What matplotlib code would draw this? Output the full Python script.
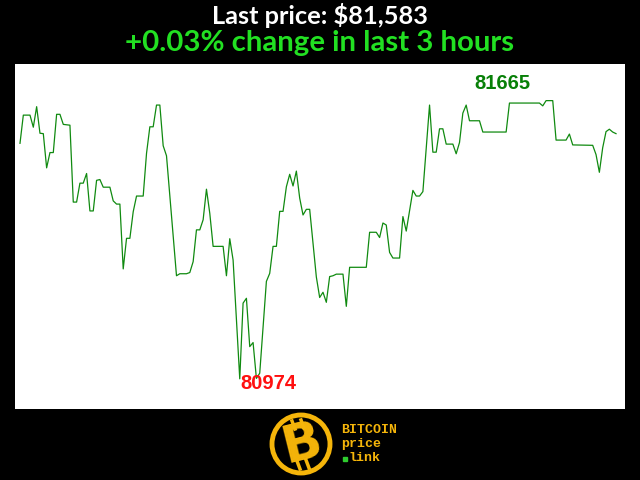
import matplotlib
matplotlib.use("Agg")
import matplotlib.pyplot as plt
from matplotlib.patches import Circle

# minutes over the last 3 hours, price at each turning point
minutes = [0, 1, 3, 4, 5, 6, 7, 8, 9, 10, 11, 12, 13, 14, 15, 16, 17, 18, 19, 20,
           21, 22, 23, 24, 25, 27, 28, 29, 30, 31, 32, 33, 34, 35, 37, 38, 39, 40,
           41, 42, 43, 44, 47, 48, 50, 51, 52, 53, 54, 55, 56, 57, 58, 61, 62, 63,
           64, 66, 67, 68, 69, 70, 71, 72, 74, 75, 76, 77, 78, 79, 80, 81, 82, 83,
           84, 85, 86, 87, 89, 90, 91, 92, 93, 94, 95, 97, 98, 99, 104, 105, 107,
           108, 109, 110, 111, 112, 114, 115, 116, 118, 119, 120, 121, 123, 124,
           125, 126, 127, 128, 130, 131, 132, 133, 134, 135, 138, 139, 146, 147,
           156, 157, 158, 160, 161, 164, 165, 166, 172, 173, 174, 175, 176, 177,
           178, 179]
prices = [81559, 81629, 81629, 81599, 81650, 81584, 81583, 81498, 81536, 81536,
          81631, 81631, 81606, 81605, 81604, 81413, 81413, 81460, 81460, 81484,
          81391, 81391, 81467, 81469, 81450, 81450, 81416, 81408, 81408, 81247,
          81323, 81323, 81389, 81428, 81428, 81534, 81600, 81600, 81654, 81654,
          81553, 81528, 81230, 81235, 81235, 81238, 81265, 81344, 81344, 81369,
          81445, 81385, 81303, 81303, 81230, 81322, 81269, 80974, 81162, 81174,
          81054, 81064, 80975, 80988, 81216, 81236, 81303, 81303, 81390, 81390,
          81451, 81482, 81453, 81490, 81423, 81381, 81395, 81395, 81227, 81176,
          81189, 81164, 81228, 81230, 81234, 81234, 81154, 81251, 81251, 81338,
          81338, 81325, 81361, 81356, 81288, 81274, 81274, 81377, 81341, 81442,
          81428, 81428, 81439, 81654, 81537, 81537, 81595, 81595, 81557, 81557,
          81533, 81561, 81634, 81654, 81615, 81615, 81587, 81587, 81659, 81659,
          81652, 81665, 81665, 81567, 81567, 81582, 81555, 81554, 81531, 81487,
          81548, 81588, 81594, 81587, 81583]

last_price = prices[-1]
change_pct = (prices[-1] - prices[0]) / prices[0] * 100

fig = plt.figure(figsize=(6.4, 4.8), dpi=100, facecolor="black")
ax = fig.add_axes([15 / 640, 71 / 480, 610 / 640, 345 / 480])
ax.set_facecolor("white")
ax.plot(minutes, prices, color="#108a10", linewidth=0.9)
ax.set_xlim(-1.5, 181.7)
ax.set_ylim(80899, 81756)
ax.set_xticks([])
ax.set_yticks([])
for s in ax.spines.values():
    s.set_visible(False)

# high / low labels
hi = max(prices)
lo = min(prices)
ax.annotate(str(hi), xy=(minutes[prices.index(hi)], hi), xytext=(-44, 17),
            textcoords="offset pixels", ha="center", va="center",
            color="#088008", fontsize=14.5, fontweight="bold", family="Liberation Sans")
ax.annotate(str(lo), xy=(minutes[prices.index(lo)], lo), xytext=(29, -5),
            textcoords="offset pixels", ha="center", va="center",
            color="#ff1010", fontsize=14.5, fontweight="bold", family="Liberation Sans")

# header
fig.text(0.5, 1 - 16 / 480, "Last price: ${:,}".format(last_price), color="white",
         ha="center", va="center", fontsize=18.3, fontweight="bold", family="Lato")
fig.text(0.5, 1 - 43 / 480, "{:+.2f}% change in last 3 hours".format(change_pct),
         color="#22e022", ha="center", va="center", fontsize=21.2,
         fontweight="bold", family="Lato")

# logo at the bottom
logo = fig.add_axes([0, 0, 1, 71 / 480])
logo.set_xlim(0, 640)
logo.set_ylim(71, 0)
logo.set_aspect("equal")
logo.axis("off")
gold = "#f5b50a"
logo.add_patch(Circle((301, 35), 29, facecolor="black", edgecolor=gold, linewidth=3.5))
logo.text(302, 36, "B", color=gold, fontsize=37, fontweight="bold", rotation=14,
          ha="center", va="center", family="DejaVu Sans")
logo.plot([292, 295], [12, 20], color=gold, linewidth=2.5)
logo.plot([301, 304], [11, 19], color=gold, linewidth=2.5)
logo.plot([297, 300], [52, 60], color=gold, linewidth=2.5)
logo.plot([306, 309], [51, 59], color=gold, linewidth=2.5)
logo.text(341, 21, "BITCOIN", color=gold, fontsize=9.5, fontweight="bold",
          family="Liberation Mono", va="center")
logo.text(341, 35, "price", color=gold, fontsize=9.5, fontweight="bold",
          family="Liberation Mono", va="center")
logo.text(349, 49, "link", color=gold, fontsize=9.5, fontweight="bold",
          family="Liberation Mono", va="center")
logo.plot([345], [50], marker="s", markersize=2.5, color="#2ecc2e")

fig.savefig("out.png", dpi=100, facecolor="black")
